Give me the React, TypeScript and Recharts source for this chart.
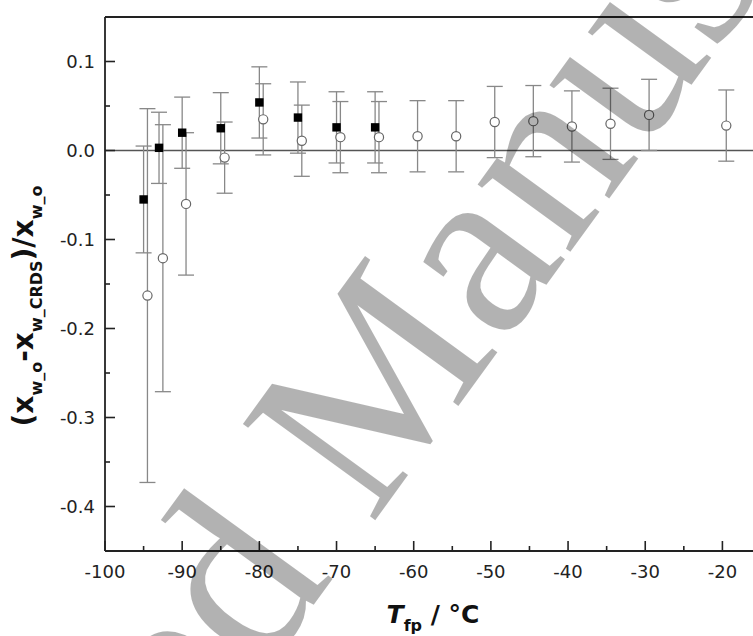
import React from "react";
import {
  ScatterChart,
  Scatter,
  XAxis,
  YAxis,
  ErrorBar,
  ReferenceLine,
} from "recharts";

// Filled squares
const squareT = [-95, -93, -90, -85, -80, -75, -70, -65];
const squareDev = [-0.055, 0.003, 0.020, 0.025, 0.054, 0.037, 0.026, 0.026];
const squareErr = [0.06, 0.04, 0.04, 0.04, 0.04, 0.04, 0.04, 0.04];

// Open circles
const circleT = [-94.5, -92.5, -89.5, -84.5, -79.5, -74.5, -69.5, -64.5, -59.5, -54.5, -49.5, -44.5, -39.5, -34.5, -29.5, -19.5];
const circleDev = [-0.163, -0.121, -0.060, -0.008, 0.035, 0.011, 0.015, 0.015, 0.016, 0.016, 0.032, 0.033, 0.027, 0.030, 0.040, 0.028];
const circleErr = [0.21, 0.15, 0.08, 0.04, 0.04, 0.04, 0.04, 0.04, 0.04, 0.04, 0.04, 0.04, 0.04, 0.04, 0.04, 0.04];

const xTicks = [-100, -95, -90, -85, -80, -75, -70, -65, -60, -55, -50, -45, -40, -35, -30, -25, -20];
const yTicks = [-0.4, -0.35, -0.3, -0.25, -0.2, -0.15, -0.1, -0.05, 0, 0.05, 0.1];

const squares = squareT.map((t, i) => ({ x: t, y: squareDev[i], e: squareErr[i] }));
const circles = circleT.map((t, i) => ({ x: t, y: circleDev[i], e: circleErr[i] }));

const W = 780;
const H = 636;
const M = { top: 17, right: 19, bottom: 55, left: 0 };
const Y_W = 105;
const X_H = 30;
const PLOT_LEFT = M.left + Y_W;
const PLOT_BOTTOM = H - M.bottom - X_H;
const FONT = "'DejaVu Sans', Verdana, sans-serif";

const isMajorX = (v: number) => Math.abs(v % 10) < 1e-6;
const isMajorY = (v: number) => Math.abs(Math.round(v * 100) % 10) === 0;

const XTick = (props: any) => {
  const { x, payload } = props;
  const v = payload.value;
  const major = isMajorX(v);
  return (
    <g>
      <line x1={x} x2={x} y1={PLOT_BOTTOM} y2={PLOT_BOTTOM - (major ? 10 : 5)} stroke="#222" strokeWidth={1.6} />
      {major && (
        <text x={x} y={PLOT_BOTTOM + 27} textAnchor="middle" fontFamily={FONT} fontSize={18} fill="#222">
          {String(v)}
        </text>
      )}
    </g>
  );
};

const YTick = (props: any) => {
  const { y, payload } = props;
  const v = payload.value;
  const major = isMajorY(v);
  return (
    <g>
      <line x1={PLOT_LEFT} x2={PLOT_LEFT + (major ? 10 : 5)} y1={y} y2={y} stroke="#222" strokeWidth={1.6} />
      {major && (
        <text x={PLOT_LEFT - 10} y={y + 6.5} textAnchor="end" fontFamily={FONT} fontSize={18} fill="#222">
          {v.toFixed(1)}
        </text>
      )}
    </g>
  );
};

const SquareShape = (props: any) => {
  const { cx, cy } = props;
  return <rect x={cx - 4.2} y={cy - 4.2} width={8.4} height={8.4} fill="#000" />;
};

const CircleShape = (props: any) => {
  const { cx, cy } = props;
  return <circle cx={cx} cy={cy} r={4.6} fill="#fff" stroke="#666" strokeWidth={1.2} />;
};

export default function App() {
  return (
    <div style={{ position: "absolute", left: 0, top: 0, width: 753, height: 636, overflow: "hidden", background: "#fff" }}>
      <ScatterChart width={W} height={H} margin={M}>
        <XAxis
          type="number"
          dataKey="x"
          domain={[-100, -15]}
          ticks={xTicks}
          interval={0}
          tick={<XTick />}
          tickLine={false}
          axisLine={{ stroke: "#222", strokeWidth: 1.8 }}
          height={X_H}
          allowDataOverflow
        />
        <YAxis
          type="number"
          dataKey="y"
          domain={[-0.45, 0.15]}
          ticks={yTicks}
          interval={0}
          tick={<YTick />}
          tickLine={false}
          axisLine={{ stroke: "#222", strokeWidth: 1.8 }}
          width={Y_W}
          allowDataOverflow
        />
        <ReferenceLine y={0.15} stroke="#222" strokeWidth={1.8} />
        <ReferenceLine y={0} stroke="#555" strokeWidth={1.6} />
        <Scatter data={circles} shape={<CircleShape />} isAnimationActive={false}>
          <ErrorBar dataKey="e" direction="y" width={8} stroke="#888" strokeWidth={1.3} />
        </Scatter>
        <Scatter data={squares} shape={<SquareShape />} isAnimationActive={false}>
          <ErrorBar dataKey="e" direction="y" width={8} stroke="#888" strokeWidth={1.3} />
        </Scatter>
      </ScatterChart>
      <svg width={753} height={636} style={{ position: "absolute", left: 0, top: 0, pointerEvents: "none" }}>
        <text transform="translate(33,306) rotate(-90)" textAnchor="middle" fontFamily={FONT} fontWeight="bold" fontSize={28} fill="#111">
          (x
          <tspan fontSize={16} dy={9}>w_o</tspan>
          <tspan dy={-9}>-x</tspan>
          <tspan fontSize={16} dy={9}>w_CRDS</tspan>
          <tspan dy={-9}>)/x</tspan>
          <tspan fontSize={16} dy={9}>w_o</tspan>
        </text>
        <text x={433} y={623} textAnchor="middle" fontFamily={FONT} fontWeight="bold" fontSize={25} fill="#111">
          <tspan fontStyle="italic">T</tspan>
          <tspan fontSize={16} dy={8}>fp</tspan>
          <tspan dy={-8}> / °C</tspan>
        </text>
        <g fill="#000" fillOpacity={0.3} fontFamily="'Liberation Serif', 'DejaVu Serif', serif" fontSize={250}>
          <text x={371 - 62} y={526} textAnchor="end" transform="rotate(-54, 371, 526)">Accepted</text>
          <text x={371} y={526} textAnchor="start" transform="rotate(-54, 371, 526)">Manuscript</text>
        </g>
      </svg>
    </div>
  );
}
